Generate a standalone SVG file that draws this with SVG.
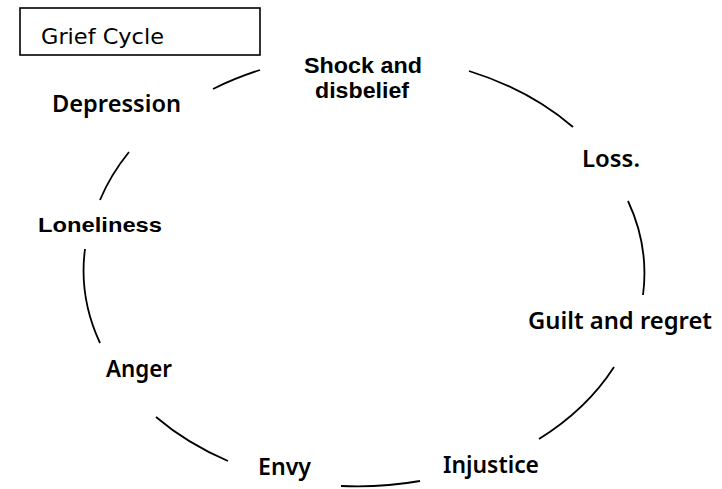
<svg xmlns="http://www.w3.org/2000/svg" width="722" height="489" viewBox="0 0 722 489">
<style>
.lbl{font-family:"Noto Sans","DejaVu Sans",sans-serif;font-weight:600;font-size:23px;fill:#000}
.lbl2{font-family:"Liberation Sans",Arial,sans-serif;font-weight:bold;font-size:22px;fill:#000}
.arc{fill:none;stroke:#000;stroke-width:1.8;stroke-linecap:butt}
</style>
<rect width="722" height="489" fill="#fff"/>
<g id="title">
<rect x="20" y="8" width="240" height="47" fill="#fff" stroke="#000" stroke-width="1.6"/>
<text x="41" y="44" font-family="'DejaVu Sans',sans-serif" font-size="21" textLength="123" lengthAdjust="spacingAndGlyphs">Grief Cycle</text>
</g>
<g id="connectors">
<path class="arc" d="M213,89 A281,215 0 0 1 260,70"/>
<path class="arc" d="M469,71 A281,215 0 0 1 573,127"/>
<path class="arc" d="M628,201 A281,215 0 0 1 643,295"/>
<path class="arc" d="M614,367 A281,215 0 0 1 539,439"/>
<path class="arc" d="M420,481 A281,215 0 0 1 341,486"/>
<path class="arc" d="M228,461 A281,215 0 0 1 156,417"/>
<path class="arc" d="M100,343 A281,215 0 0 1 85,249"/>
<path class="arc" d="M100,200 A281,215 0 0 1 129,152"/>
</g>
<g id="n-shock"><text class="lbl2" x="304" y="73" textLength="118" lengthAdjust="spacingAndGlyphs">Shock and</text><text class="lbl2" x="315" y="98" textLength="94" lengthAdjust="spacingAndGlyphs">disbelief</text></g>
<g id="n-loss"><text class="lbl" x="582" y="167" textLength="58" lengthAdjust="spacingAndGlyphs">Loss.</text></g>
<g id="n-guilt"><text class="lbl" x="528" y="329" textLength="184" lengthAdjust="spacingAndGlyphs">Guilt and regret</text></g>
<g id="n-injustice"><text class="lbl" x="443" y="473" textLength="96" lengthAdjust="spacingAndGlyphs">Injustice</text></g>
<g id="n-envy"><text class="lbl" x="258" y="475" textLength="53" lengthAdjust="spacingAndGlyphs">Envy</text></g>
<g id="n-anger"><text class="lbl" x="106" y="377" textLength="66" lengthAdjust="spacingAndGlyphs">Anger</text></g>
<g id="n-loneliness"><text x="38" y="232" font-family="'Liberation Sans',Arial,sans-serif" font-weight="bold" font-size="21" textLength="124" lengthAdjust="spacingAndGlyphs">Loneliness</text></g>
<g id="n-depression"><text class="lbl" x="52" y="112" textLength="129" lengthAdjust="spacingAndGlyphs">Depression</text></g>
</svg>
